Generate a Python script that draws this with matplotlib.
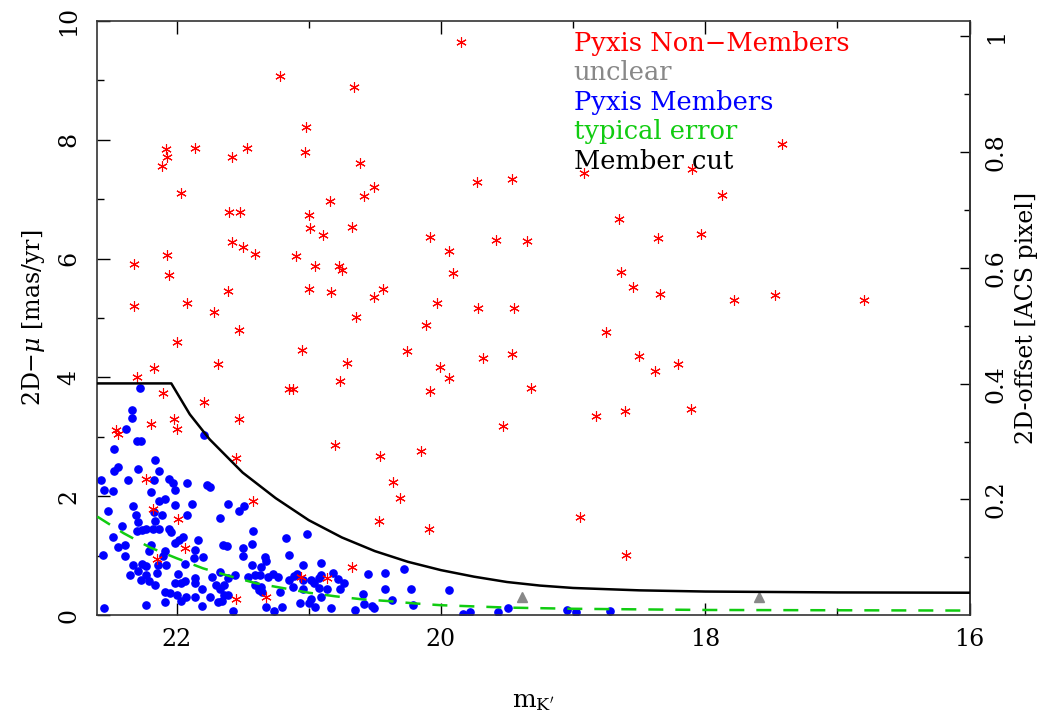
import numpy as np
import matplotlib
matplotlib.use("Agg")
import matplotlib.pyplot as plt
from matplotlib.ticker import MultipleLocator, FixedLocator, FuncFormatter

plt.rcParams['font.family'] = ['DejaVu Serif']
plt.rcParams['mathtext.fontset'] = 'dejavuserif'

# Pyxis non-members (red asterisks): m_K', 2D proper motion [mas/yr]
non_x = [19.85, 21.22, 20.66, 21.02, 22.08, 21.86, 21.47, 21.03, 22.07, 21.58, 22.11, 20.61,
         19.73, 19.46, 20.51, 20.58, 21.97, 20.84, 21.60, 21.52, 21.00, 20.99, 20.89, 20.67,
         20.08, 19.58, 19.35, 19.94, 21.58, 21.50, 21.41, 21.10, 22.07, 22.32, 22.06, 20.95,
         20.77, 20.75, 19.91, 21.61, 21.00, 20.83, 20.44, 20.51, 20.03, 19.72, 19.45, 22.32,
         21.92, 21.72, 20.64, 20.11,
         21.53, 22.00, 21.05, 20.26, 22.17, 21.69, 20.71, 19.68, 19.46, 20.01, 19.94, 22.30,
         20.76, 20.08, 19.32, 22.10, 21.15, 21.12, 21.79, 22.02, 21.53, 22.19, 22.00, 22.46,
         22.44, 19.53, 20.80, 20.46, 20.15, 21.55, 20.36, 20.31, 20.47, 20.09, 22.23, 21.42,
         22.18, 21.99, 21.94, 22.15, 20.67, 21.06, 20.86, 21.55, 21.32,
         17.42, 18.92, 18.10, 17.87, 18.65, 18.36, 18.03, 18.64, 18.55, 18.34, 17.78, 17.47,
         16.80, 18.75, 18.50, 18.21, 18.38, 18.83, 18.61, 18.11, 18.95, 18.60]
non_y = [9.64, 9.07, 8.88, 8.21, 7.85, 7.86, 7.86, 7.79, 7.71, 7.71, 7.56, 7.60,
         7.29, 7.34, 7.21, 7.06, 7.10, 6.97, 6.78, 6.79, 6.74, 6.51, 6.40, 6.53,
         6.37, 6.31, 6.30, 6.12, 6.28, 6.19, 6.08, 6.05, 6.06, 5.90, 5.72, 5.88,
         5.88, 5.80, 5.75, 5.46, 5.48, 5.44, 5.48, 5.35, 5.25, 5.17, 5.17, 5.20,
         5.25, 5.10, 5.01, 4.89,
         4.79, 4.60, 4.46, 4.45, 4.16, 4.23, 4.25, 4.33, 4.39, 4.18, 3.99, 4.00,
         3.94, 3.77, 3.83, 3.74, 3.81, 3.81, 3.59, 3.30, 3.30, 3.22, 3.13, 3.12,
         3.05, 3.18, 2.86, 2.68, 2.76, 2.65, 2.25, 1.98, 1.58, 1.45, 2.29, 1.93,
         1.79, 1.62, 1.14, 0.94, 0.82, 0.64, 0.63, 0.27, 0.31,
         7.92, 7.43, 7.50, 7.07, 6.66, 6.35, 6.42, 5.77, 5.52, 5.40, 5.31, 5.38,
         5.31, 4.76, 4.36, 4.22, 4.11, 3.35, 3.43, 3.47, 1.65, 1.01]

# Pyxis members (blue dots)
mem_x = [22.28, 22.34, 22.34, 22.38, 22.30, 22.27, 21.79, 22.47, 22.16, 22.44, 22.47, 22.29,
         22.13, 22.57, 22.37, 22.17, 22.06, 22.03, 21.92, 21.77, 21.75, 22.55, 22.48, 22.19,
         22.01, 22.13, 22.09,
         22.52, 22.33, 22.01, 21.88, 21.61, 21.53, 21.49, 22.31, 22.29, 22.17, 22.16, 22.11,
         21.92, 21.67, 22.41, 22.30, 22.26, 22.23, 22.18, 22.13, 22.06, 22.04, 21.95, 21.98,
         22.01, 22.48, 21.84, 21.42, 22.44, 22.39, 22.19, 22.21, 21.65, 21.62, 21.50, 22.09,
         21.86, 21.87, 21.80, 22.56, 22.39, 22.10, 21.50, 22.33, 22.26, 22.23, 22.14, 22.08,
         21.94, 21.43, 21.36, 22.29, 22.23, 22.15, 21.99, 22.35, 21.86, 21.86, 21.73, 21.67,
         21.61, 21.56, 21.46, 21.41, 21.37, 22.27, 22.21, 22.01, 21.97, 21.94, 22.16, 21.81,
         21.70, 21.67, 21.64, 21.41, 21.38, 21.35, 22.09, 22.05, 22.00, 21.93, 21.86, 21.75,
         21.64, 21.61, 21.97, 22.09, 21.81, 21.69, 21.66, 22.23, 22.55, 21.57, 21.43,
         21.01, 21.17, 21.33, 21.32, 21.15, 21.04, 20.91, 21.31, 21.27, 21.23, 21.15, 21.11,
         21.09, 21.04, 20.98, 20.96, 20.92, 20.91, 20.82, 20.78, 20.73, 21.12, 21.04, 20.92,
         20.86, 20.76, 21.22, 21.36, 20.91, 20.98, 21.07, 21.00, 20.95, 20.83, 21.32, 21.26,
         21.20, 20.59, 20.55, 20.42, 20.28, 20.42, 20.23, 20.58, 20.52, 20.51, 20.37, 20.65,
         20.21,
         19.94, 19.83, 19.78, 19.57, 19.49, 19.05, 18.98, 18.72]
mem_y = [3.83, 3.46, 3.31, 3.13, 2.93, 2.93, 3.04, 2.79, 2.62, 2.50, 2.43, 2.46,
         2.42, 2.28, 2.28, 2.28, 2.29, 2.22, 2.22, 2.19, 2.16, 2.10, 2.09, 2.08,
         2.10, 1.92, 1.96,
         1.75, 1.83, 1.86, 1.87, 1.87, 1.76, 1.84, 1.68, 1.57, 1.73, 1.59, 1.68,
         1.68, 1.63, 1.51, 1.42, 1.43, 1.45, 1.45, 1.45, 1.46, 1.40, 1.32, 1.27,
         1.21, 1.31, 1.27, 1.41, 1.15, 1.18, 1.18, 1.08, 1.19, 1.17, 1.14, 1.08,
         1.10, 0.96, 0.98, 1.01, 0.99, 0.99, 0.99, 0.85, 0.87, 0.83, 0.85, 0.85,
         0.86, 0.85, 0.82, 0.74, 0.68, 0.71, 0.69, 0.68, 0.62, 0.54, 0.65, 0.73,
         0.63, 0.67, 0.65, 0.68, 0.68, 0.59, 0.58, 0.54, 0.54, 0.57, 0.51, 0.44,
         0.51, 0.45, 0.51, 0.51, 0.43, 0.40, 0.40, 0.37, 0.34, 0.31, 0.31, 0.31,
         0.34, 0.34, 0.24, 0.22, 0.16, 0.22, 0.24, 0.17, 0.13, 0.07, 1.20,
         1.36, 1.30, 0.98, 0.92, 1.01, 0.85, 0.88, 0.64, 0.69, 0.65, 0.59, 0.66,
         0.69, 0.59, 0.59, 0.54, 0.62, 0.68, 0.71, 0.61, 0.54, 0.48, 0.45, 0.46,
         0.44, 0.44, 0.40, 0.48, 0.31, 0.27, 0.20, 0.20, 0.14, 0.13, 0.14, 0.07,
         0.14, 0.36, 0.69, 0.72, 0.78, 0.44, 0.44, 0.19, 0.16, 0.12, 0.26, 0.09,
         0.17,
         0.43, 0.03, 0.05, 0.06, 0.12, 0.09, 0.05, 0.07]

# unclear (grey triangles)
unc_x = [19.39, 17.59]
unc_y = [0.31, 0.30]

# member cut (black line)
cut_x = [22.6, 22.04, 21.9, 21.75, 21.5, 21.25, 21.0, 20.75, 20.5, 20.25, 20.0, 19.75,
         19.5, 19.25, 19.0, 18.5, 18.0, 17.0, 16.0]
cut_y = [3.9, 3.9, 3.38, 2.96, 2.40, 1.97, 1.60, 1.31, 1.08, 0.90, 0.76, 0.65,
         0.56, 0.50, 0.46, 0.42, 0.40, 0.385, 0.38]

# typical error (green dashed)
err_x = [22.6, 22.4, 22.2, 22.0, 21.8, 21.6, 21.4, 21.2, 21.0, 20.8, 20.6, 20.4,
         20.2, 20.0, 19.5, 19.0, 18.0, 17.0, 16.0]
err_y = [1.66, 1.38, 1.14, 0.96, 0.79, 0.66, 0.54, 0.46, 0.38, 0.32, 0.27, 0.24,
         0.20, 0.17, 0.13, 0.11, 0.09, 0.085, 0.08]

labels = ["Pyxis Non\u2212Members", "unclear", "Pyxis Members", "typical error", "Member cut"]
label_colors = ["red", "#888888", "blue", "#11cc11", "black"]

pix_per_mas = 9.74

fig = plt.figure(figsize=(10.46, 7.13), dpi=100)
ax = fig.add_axes([0.093, 0.137, 0.834, 0.834])

ax.plot(mem_x, mem_y, ls='none', marker='o', ms=5.2, color='blue', mec='blue', zorder=2)
ax.plot(non_x, non_y, ls='none', marker=(6, 2, 0), ms=7.5, mec='red', mew=0.8, zorder=3)
ax.plot(unc_x, unc_y, ls='none', marker='^', ms=7, color='#888888', zorder=3)
ax.plot(err_x, err_y, color='#11cc11', lw=1.8, dashes=(6, 4.8), zorder=4)
ax.plot(cut_x, cut_y, color='black', lw=1.8, zorder=5)

ax.set_xlim(22.6, 16)
ax.set_ylim(0, 10)

ax.xaxis.set_major_locator(MultipleLocator(2))
ax.xaxis.set_minor_locator(MultipleLocator(1))
ax.yaxis.set_major_locator(MultipleLocator(2))
ax.yaxis.set_minor_locator(MultipleLocator(1))
ax.tick_params(which='both', direction='in', top=True, right=False, labelsize=17)
ax.tick_params(which='major', length=9, width=1)
ax.tick_params(which='minor', length=5, width=1)
ax.tick_params(axis='x', pad=9)
ax.tick_params(axis='y', pad=12, labelrotation=90)
for lab in ax.get_yticklabels():
    lab.set_va('center')

for s in ax.spines.values():
    s.set_linewidth(1.2)
    s.set_color('#333333')

ax.set_xlabel(r'$\mathrm{m}_{\mathrm{K}^{\prime}}$', fontsize=18)
ax.xaxis.set_label_coords(0.5, -0.125)
ax.set_ylabel(r'2D$-\mu$ [mas/yr]', fontsize=17)
ax.yaxis.set_label_coords(-0.058, 0.5)

sec = ax.secondary_yaxis('right', functions=(lambda y: y / pix_per_mas, lambda o: o * pix_per_mas))
sec.yaxis.set_major_locator(FixedLocator([0.2, 0.4, 0.6, 0.8, 1.0]))
sec.yaxis.set_minor_locator(FixedLocator([0.1, 0.3, 0.5, 0.7, 0.9]))
sec.yaxis.set_major_formatter(FuncFormatter(lambda v, p: f'{v:g}'))
sec.tick_params(which='both', direction='in', labelsize=17, pad=11, labelrotation=90)
sec.tick_params(which='major', length=7, width=1)
sec.tick_params(which='minor', length=4, width=1)
for lab in sec.get_yticklabels():
    lab.set_va('center')
sec.spines['right'].set_linewidth(1.2)
sec.spines['right'].set_color('#333333')
sec.set_ylabel('2D-offset [ACS pixel]', fontsize=17, labelpad=5)

for i, (t, c) in enumerate(zip(labels, label_colors)):
    ax.text(0.546, 0.9495 - i * 0.0496, t, color=c, fontsize=18.5,
            transform=ax.transAxes, va='baseline', ha='left')

fig.savefig('out.png', dpi=100)
